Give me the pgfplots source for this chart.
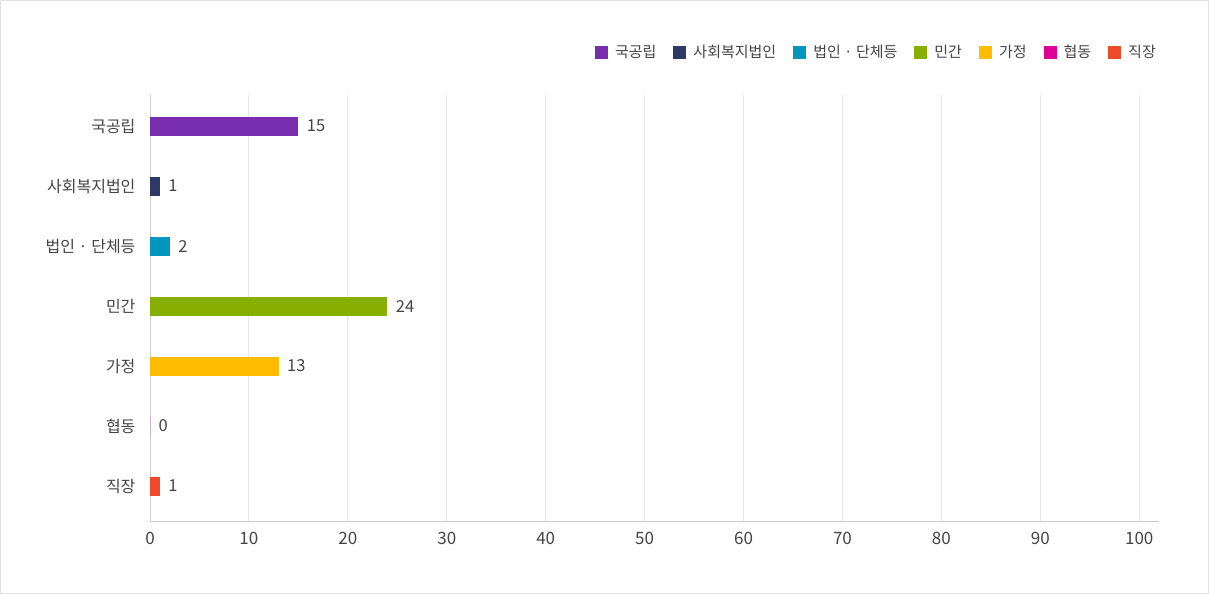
\documentclass[border=0pt]{standalone}
\usepackage{fontspec}
\setmainfont{Noto Sans CJK KR}
\usepackage{pgfplots}
\pgfplotsset{compat=1.18}
\definecolor{c1}{HTML}{772DAE}
\definecolor{c2}{HTML}{2E3A66}
\definecolor{c3}{HTML}{0096BE}
\definecolor{c4}{HTML}{86AF00}
\definecolor{c5}{HTML}{FFBB00}
\definecolor{c6}{HTML}{DC0096}
\definecolor{c7}{HTML}{EE4B2B}
\definecolor{txt}{HTML}{444444}
\definecolor{gridc}{HTML}{E6E6E6}
\definecolor{axc}{HTML}{CCCCCC}
\definecolor{frame}{HTML}{E2E2E2}
\begin{document}
\begin{tikzpicture}[x=1pt,y=1pt]
\draw[frame, line width=1pt] (0.5,0.5) rectangle (1208.5,593.5);
\begin{axis}[at={(150pt,73pt)}, anchor=south west, scale only axis,
  width=1009pt, height=426pt,
  xmin=0, xmax=102, ymin=-0.517, ymax=6.583, y dir=reverse,
  xtick={0,10,...,100}, ytick={0,...,6},
  yticklabels={국공립,사회복지법인,법인 · 단체등,민간,가정,협동,직장},
  axis x line=bottom, axis y line=left,
  axis line style={-, draw=axc, line width=1pt},
  xmajorgrids, grid style={gridc, line width=1pt},
  major tick length=0pt,
  xticklabel style={font=\fontsize{17}{20}\selectfont, text=txt, yshift=-8pt},
  yticklabel style={font=\fontsize{16}{19}\selectfont, text=txt, xshift=-11pt},
  /pgf/number format/assume math mode=true,
  xbar, bar width=19pt, bar shift=0pt,
  nodes near coords,
  nodes near coords style={anchor=west, xshift=5pt, font=\fontsize{16.5}{19}\selectfont, text=txt},
  legend columns=7,
  legend style={draw=none, fill=none, at={(1,1)}, anchor=east, yshift=43pt, xshift=2pt,
    font=\fontsize{15}{18}\selectfont, text=txt,
    /tikz/every odd column/.append style={column sep=5pt},
    /tikz/every even column/.append style={column sep=15pt}},
  legend image code/.code={\fill[#1] (0pt,-6.5pt) rectangle (13pt,6.5pt);},
]
\addplot[fill=c1, draw=none] coordinates {(15,0)};
\addplot[fill=c2, draw=none] coordinates {(1,1)};
\addplot[fill=c3, draw=none] coordinates {(2,2)};
\addplot[fill=c4, draw=none] coordinates {(24,3)};
\addplot[fill=c5, draw=none] coordinates {(13,4)};
\addplot[fill=c6, draw=none] coordinates {(0,5)};
\addplot[fill=c7, draw=none] coordinates {(1,6)};
\legend{국공립,사회복지법인,법인 · 단체등,민간,가정,협동,직장}
\end{axis}
\end{tikzpicture}
\end{document}
